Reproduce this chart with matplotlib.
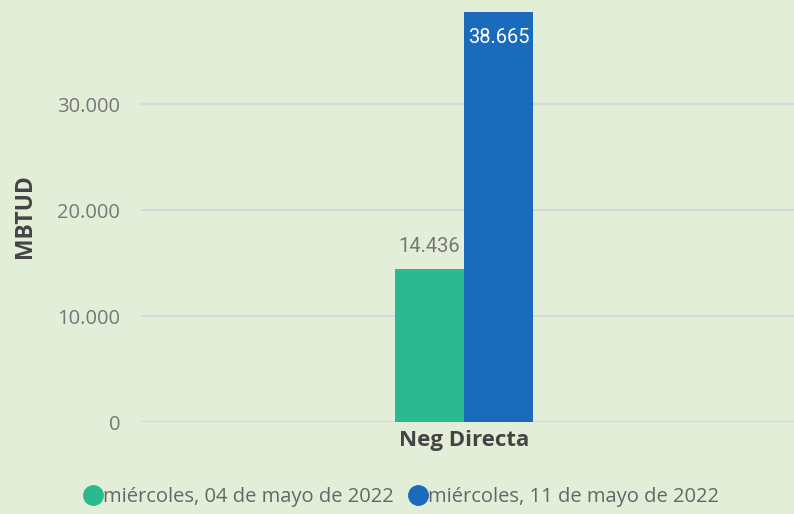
import numpy as np
import matplotlib.pyplot as plt
from matplotlib.lines import Line2D

categories = ['Neg Directa']
series_names = ['miércoles, 04 de mayo de 2022', 'miércoles, 11 de mayo de 2022']
series_values = [[14436], [38665]]
series_colors = ['#2BB98F', '#1A6BBB']
yticks = [0, 10000, 20000, 30000]
ytick_labels = ['0', '10.000', '20.000', '30.000']

bg = '#E2EED8'
plt.rcParams['font.family'] = ['Open Sans', 'DejaVu Sans']

fig = plt.figure(figsize=(7.94, 5.14), dpi=100, facecolor=bg)
W, H = 794, 514
ax = fig.add_axes([141 / W, 1 - 422 / H, (794 - 141) / W, 422 / H])
ax.set_facecolor(bg)

x = np.arange(len(categories))
bw = 69 / 653
for i, (vals, c) in enumerate(zip(series_values, series_colors)):
    pos = x + (i - 0.5) * bw
    ax.bar(pos, vals, width=bw, color=c, zorder=3)

# value labels
ax.text(x[0] - 0.5 * bw, series_values[0][0] + 1200, '{:,}'.format(series_values[0][0]).replace(',', '.'),
        ha='center', va='bottom', fontsize=14.5, color='#777777', family=['Roboto', 'DejaVu Sans'])
ax.text(x[0] + 0.5 * bw, series_values[1][0] - 1500, '{:,}'.format(series_values[1][0]).replace(',', '.'),
        ha='center', va='top', fontsize=14.5, color='white', family=['Roboto', 'DejaVu Sans'])

ax.set_xlim(-323 / 653, 330 / 653)
ax.set_ylim(0, 422 / 106 * 10000)
ax.set_yticks(yticks)
ax.set_yticklabels(ytick_labels, fontsize=14.5, color='#777777')
ax.set_xticks(x)
ax.set_xticklabels(categories, fontsize=16, fontweight='bold', color='#444444')
ax.tick_params(axis='y', length=0, pad=15)
ax.tick_params(axis='x', length=0, pad=6)
ax.grid(axis='y', color='#D6D9D9', linewidth=1.5, zorder=0)
for s in ax.spines.values():
    s.set_visible(False)

fig.text(25 / W, 1 - 216 / H, 'MBTUD', rotation=90, ha='center', va='center',
         fontsize=16.5, fontweight='bold', color='#444444')

handles = [Line2D([], [], marker='o', linestyle='', markersize=14, color=c) for c in series_colors]
fig.legend(handles, series_names, loc='center', bbox_to_anchor=(401 / W, 1 - 497 / H), ncol=2,
           frameon=False, fontsize=14.5, labelcolor='#666666', handletextpad=0.0,
           columnspacing=0.7, handlelength=1.0)

fig.savefig('out.png', dpi=100, facecolor=bg)
